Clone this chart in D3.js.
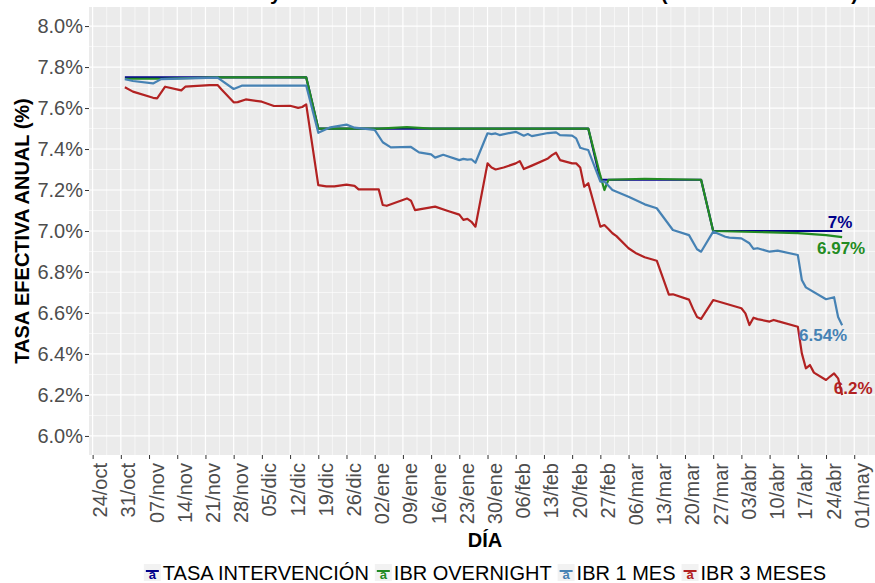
<!DOCTYPE html>
<html>
<head>
<meta charset="utf-8">
<script src="https://cdn.jsdelivr.net/npm/d3@7"></script>
<style>
  body { margin: 0; background: #fff; }
  svg { display: block; font-family: "Liberation Sans", Arial, sans-serif; }
</style>
</head>
<body>
<svg id="chart" width="875" height="583"></svg>
<script>
// Datos
const meses = ["ene", "feb", "mar", "abr", "may", "jun", "jul", "ago", "sep", "oct", "nov", "dic"];
const nombresSerie = ["TASA INTERVENCIÓN", "IBR OVERNIGHT", "IBR 1 MES", "IBR 3 MESES"];
const colores = ["#00008B", "#228B22", "#4682B4", "#B22222"];

const tasaFechas = ["2016-11-01", "2016-12-16", "2016-12-19", "2017-02-24", "2017-02-27",
  "2017-03-24", "2017-03-27", "2017-04-28"];
const tasaValores = [7.75, 7.75, 7.5, 7.5, 7.25, 7.25, 7.0, 7.0];

const ovnFechas = ["2016-11-01", "2016-11-10", "2016-11-24", "2016-12-16", "2016-12-19",
  "2017-01-03", "2017-01-10", "2017-01-16", "2017-02-24", "2017-02-27", "2017-02-28",
  "2017-03-01", "2017-03-10", "2017-03-24", "2017-03-27", "2017-04-17", "2017-04-24", "2017-04-28"];
const ovnValores = [7.743, 7.743, 7.75, 7.75, 7.5, 7.5, 7.507, 7.5, 7.5, 7.27, 7.2,
  7.25, 7.255, 7.25, 7.0, 6.99, 6.98, 6.97];

const ibr1Fechas = ["2016-11-01", "2016-11-03", "2016-11-08", "2016-11-10", "2016-11-24",
  "2016-11-28", "2016-11-30", "2016-12-16", "2016-12-19", "2016-12-22", "2016-12-26",
  "2016-12-28", "2017-01-02", "2017-01-04", "2017-01-06", "2017-01-11", "2017-01-13",
  "2017-01-16", "2017-01-17", "2017-01-19", "2017-01-23", "2017-01-24", "2017-01-25",
  "2017-01-26", "2017-01-27", "2017-01-30", "2017-01-31", "2017-02-01", "2017-02-02",
  "2017-02-06", "2017-02-08", "2017-02-09", "2017-02-10", "2017-02-14", "2017-02-16",
  "2017-02-17", "2017-02-20", "2017-02-21", "2017-02-22", "2017-02-23", "2017-02-24",
  "2017-02-27", "2017-02-28", "2017-03-02", "2017-03-06", "2017-03-10", "2017-03-13",
  "2017-03-17", "2017-03-21", "2017-03-23", "2017-03-24", "2017-03-27", "2017-03-28",
  "2017-03-30", "2017-03-31", "2017-04-03", "2017-04-05", "2017-04-06", "2017-04-07",
  "2017-04-10", "2017-04-12", "2017-04-17", "2017-04-18", "2017-04-19", "2017-04-24",
  "2017-04-25", "2017-04-26", "2017-04-27", "2017-04-28"];
const ibr1Valores = [7.741, 7.732, 7.72, 7.741, 7.748,
  7.693, 7.709, 7.71, 7.479, 7.506, 7.519,
  7.504, 7.493, 7.433, 7.408, 7.41, 7.384,
  7.374, 7.358, 7.372, 7.346, 7.352, 7.348,
  7.35, 7.333, 7.477, 7.473, 7.476, 7.468,
  7.484, 7.465, 7.473, 7.463, 7.478, 7.481,
  7.468, 7.465, 7.452, 7.406, 7.4, 7.395,
  7.241, 7.241, 7.2, 7.167, 7.13, 7.111,
  7.005, 6.98, 6.911, 6.899, 6.997, 6.989,
  6.972, 6.968, 6.964, 6.94, 6.913, 6.916,
  6.899, 6.904, 6.883, 6.761, 6.725, 6.667,
  6.672, 6.677, 6.58, 6.54];

const ibr3Fechas = ["2016-11-01", "2016-11-03", "2016-11-08", "2016-11-09", "2016-11-11",
  "2016-11-15", "2016-11-16", "2016-11-22", "2016-11-24", "2016-11-25", "2016-11-28",
  "2016-11-29", "2016-12-01", "2016-12-05", "2016-12-08", "2016-12-12", "2016-12-14",
  "2016-12-15", "2016-12-16", "2016-12-19", "2016-12-21", "2016-12-23", "2016-12-26",
  "2016-12-28", "2016-12-29", "2017-01-03", "2017-01-04", "2017-01-05", "2017-01-10",
  "2017-01-11", "2017-01-12", "2017-01-17", "2017-01-20", "2017-01-23", "2017-01-24",
  "2017-01-25", "2017-01-26", "2017-01-27", "2017-01-30", "2017-01-31", "2017-02-01",
  "2017-02-02", "2017-02-03", "2017-02-06", "2017-02-07", "2017-02-08", "2017-02-10",
  "2017-02-14", "2017-02-15", "2017-02-16", "2017-02-17", "2017-02-20", "2017-02-21",
  "2017-02-22", "2017-02-23", "2017-02-24", "2017-02-27", "2017-02-28", "2017-03-01",
  "2017-03-02", "2017-03-03", "2017-03-06", "2017-03-08", "2017-03-10", "2017-03-13",
  "2017-03-16", "2017-03-17", "2017-03-21", "2017-03-22", "2017-03-23", "2017-03-24",
  "2017-03-27", "2017-04-03", "2017-04-04", "2017-04-05", "2017-04-06", "2017-04-07",
  "2017-04-10", "2017-04-11", "2017-04-12", "2017-04-17", "2017-04-18", "2017-04-19",
  "2017-04-20", "2017-04-21", "2017-04-24", "2017-04-25", "2017-04-26", "2017-04-27",
  "2017-04-28"];
const ibr3Valores = [7.701, 7.68, 7.65, 7.647, 7.704,
  7.686, 7.704, 7.712, 7.712, 7.69, 7.628,
  7.629, 7.642, 7.631, 7.61, 7.611, 7.601,
  7.605, 7.618, 7.224, 7.218, 7.218, 7.226,
  7.22, 7.203, 7.203, 7.127, 7.123, 7.159,
  7.148, 7.102, 7.119, 7.099, 7.08, 7.054,
  7.059, 7.045, 7.021, 7.33, 7.31, 7.3,
  7.305, 7.31, 7.33, 7.341, 7.302, 7.319,
  7.354, 7.37, 7.382, 7.346, 7.33, 7.33,
  7.31, 7.216, 7.233, 7.021, 7.029, 7.01,
  6.989, 6.975, 6.916, 6.89, 6.872, 6.855,
  6.69, 6.691, 6.665, 6.62, 6.58, 6.571,
  6.663, 6.623, 6.598, 6.541, 6.577, 6.57,
  6.558, 6.566, 6.56, 6.533, 6.403, 6.33,
  6.346, 6.309, 6.273, 6.29, 6.305, 6.281,
  6.2];

const yTicks = [6.0, 6.2, 6.4, 6.6, 6.8, 7.0, 7.2, 7.4, 7.6, 7.8, 8.0];

const parse = d3.timeParse("%Y-%m-%d");
const armar = (fechas, valores) => fechas.map((f, i) => ({ fecha: parse(f), valor: valores[i] }));
const series = [
  armar(tasaFechas, tasaValores),
  armar(ovnFechas, ovnValores),
  armar(ibr1Fechas, ibr1Valores),
  armar(ibr3Fechas, ibr3Valores)
];

const svg = d3.select("#chart");
const panel = { left: 89, right: 878, top: 7, bottom: 455 };

// Escala x con expansión del 5% (como ggplot)
const todas = series.flat().map(d => d.fecha);
const [f0, f1] = d3.extent(todas);
const pad = (f1 - f0) * 0.05;
const x = d3.scaleTime()
  .domain([new Date(+f0 - pad), new Date(+f1 + pad)])
  .range([panel.left, panel.right]);

const y = d3.scaleLinear()
  .domain([5.907, 8.093])
  .range([panel.bottom, panel.top]);

// Título (cortado en la parte superior)
svg.append("text")
  .attr("x", 858)
  .attr("y", 0)
  .attr("text-anchor", "end")
  .style("font-size", "20.5px")
  .style("font-weight", "bold")
  .text("Tasa de intervención y tasas interbancarias IBR en Colombia (oct 2016 - abr 2017)");

// Panel
svg.append("rect")
  .attr("x", panel.left)
  .attr("y", panel.top)
  .attr("width", panel.right - panel.left)
  .attr("height", panel.bottom - panel.top)
  .attr("fill", "#EBEBEB");

const grid = svg.append("g");
const dia = 24 * 3600 * 1000;
const xTicks = d3.timeMonday.range(x.domain()[0], x.domain()[1]);
const xMinor = xTicks.map(t => new Date(+t + 3.5 * dia)).filter(t => t < x.domain()[1]);
const yMinor = yTicks.slice(0, -1).map(v => v + 0.1);

grid.selectAll(".hmin").data(yMinor).enter().append("line")
  .attr("x1", panel.left).attr("x2", panel.right)
  .attr("y1", d => y(d)).attr("y2", d => y(d))
  .attr("stroke", "#fff").attr("stroke-width", 0.6);
grid.selectAll(".vmin").data(xMinor).enter().append("line")
  .attr("y1", panel.top).attr("y2", panel.bottom)
  .attr("x1", d => x(d)).attr("x2", d => x(d))
  .attr("stroke", "#fff").attr("stroke-width", 0.6);
grid.selectAll(".hmaj").data(yTicks).enter().append("line")
  .attr("x1", panel.left).attr("x2", panel.right)
  .attr("y1", d => y(d)).attr("y2", d => y(d))
  .attr("stroke", "#fff").attr("stroke-width", 1.2);
grid.selectAll(".vmaj").data(xTicks).enter().append("line")
  .attr("y1", panel.top).attr("y2", panel.bottom)
  .attr("x1", d => x(d)).attr("x2", d => x(d))
  .attr("stroke", "#fff").attr("stroke-width", 1.2);

// Líneas
const linea = d3.line()
  .x(d => x(d.fecha))
  .y(d => y(d.valor));

svg.append("g").selectAll("path")
  .data(series)
  .enter().append("path")
  .attr("d", linea)
  .attr("fill", "none")
  .attr("stroke", (d, i) => colores[i])
  .attr("stroke-width", 2.2)
  .attr("stroke-linejoin", "round");

// Etiquetas del último valor (desplazamientos en px, estilo ggrepel)
const desplaz = [[-2, -9], [-1, 11], [-19, 10], [11, -7]];
svg.append("g").selectAll("text")
  .data(series)
  .enter().append("text")
  .attr("x", (d, i) => x(d[d.length - 1].fecha) + desplaz[i][0])
  .attr("y", (d, i) => y(d[d.length - 1].valor) + desplaz[i][1])
  .attr("dy", "0.35em")
  .attr("text-anchor", "middle")
  .attr("fill", (d, i) => colores[i])
  .style("font-size", "17px")
  .style("font-weight", "bold")
  .text(d => (+d[d.length - 1].valor.toFixed(2)) + "%");

// Ejes
const ejeY = svg.append("g")
  .attr("transform", `translate(${panel.left},0)`)
  .call(d3.axisLeft(y).tickValues(yTicks).tickSize(4).tickPadding(2)
    .tickFormat(d => d.toFixed(1) + "%"));
ejeY.select(".domain").remove();
ejeY.selectAll(".tick line").attr("stroke", "#333");
ejeY.selectAll(".tick text")
  .attr("fill", "#4D4D4D")
  .style("font-size", "20px")
  .style("font-family", "'Liberation Sans', Arial, sans-serif");

const fmtX = d => d3.timeFormat("%d")(d) + "/" + meses[d.getMonth()];
const ejeX = svg.append("g")
  .attr("transform", `translate(0,${panel.bottom})`)
  .call(d3.axisBottom(x).tickValues(xTicks).tickSize(4).tickFormat(fmtX));
ejeX.select(".domain").remove();
ejeX.selectAll(".tick line").attr("stroke", "#333");
ejeX.selectAll(".tick text")
  .attr("transform", "rotate(-90)")
  .attr("x", -8)
  .attr("y", 14)
  .attr("dy", 0)
  .attr("text-anchor", "end")
  .attr("fill", "#4D4D4D")
  .style("font-size", "20px")
  .style("font-family", "'Liberation Sans', Arial, sans-serif");

// Títulos de ejes
svg.append("text")
  .attr("transform", "translate(29,231) rotate(-90)")
  .attr("text-anchor", "middle")
  .style("font-size", "20px")
  .style("font-weight", "bold")
  .text("TASA EFECTIVA ANUAL (%)");

svg.append("text")
  .attr("x", 485)
  .attr("y", 547)
  .attr("text-anchor", "middle")
  .style("font-size", "20px")
  .style("font-weight", "bold")
  .text("DÍA");

// Leyenda
const leyenda = svg.append("g");
let cx = 0;
nombresSerie.forEach((nombre, i) => {
  const item = leyenda.append("g").attr("transform", `translate(${cx},0)`);
  item.append("rect")
    .attr("x", 0).attr("y", 564)
    .attr("width", 17).attr("height", 17)
    .attr("fill", "#F2F2F2");
  item.append("line")
    .attr("x1", 2).attr("x2", 15)
    .attr("y1", 571).attr("y2", 571)
    .attr("stroke", colores[i]).attr("stroke-width", 2);
  item.append("text")
    .attr("x", 8.5).attr("y", 579)
    .attr("text-anchor", "middle")
    .attr("fill", colores[i])
    .style("font-size", "13px")
    .style("font-weight", "bold")
    .text("a");
  const t = item.append("text")
    .attr("x", 19).attr("y", 580)
    .style("font-size", "20px")
    .text(nombre);
  cx += 19 + t.node().getComputedTextLength() + 6;
});
const anchoLeyenda = cx - 6;
leyenda.attr("transform", `translate(${485 - anchoLeyenda / 2},0)`);
</script>
</body>
</html>
